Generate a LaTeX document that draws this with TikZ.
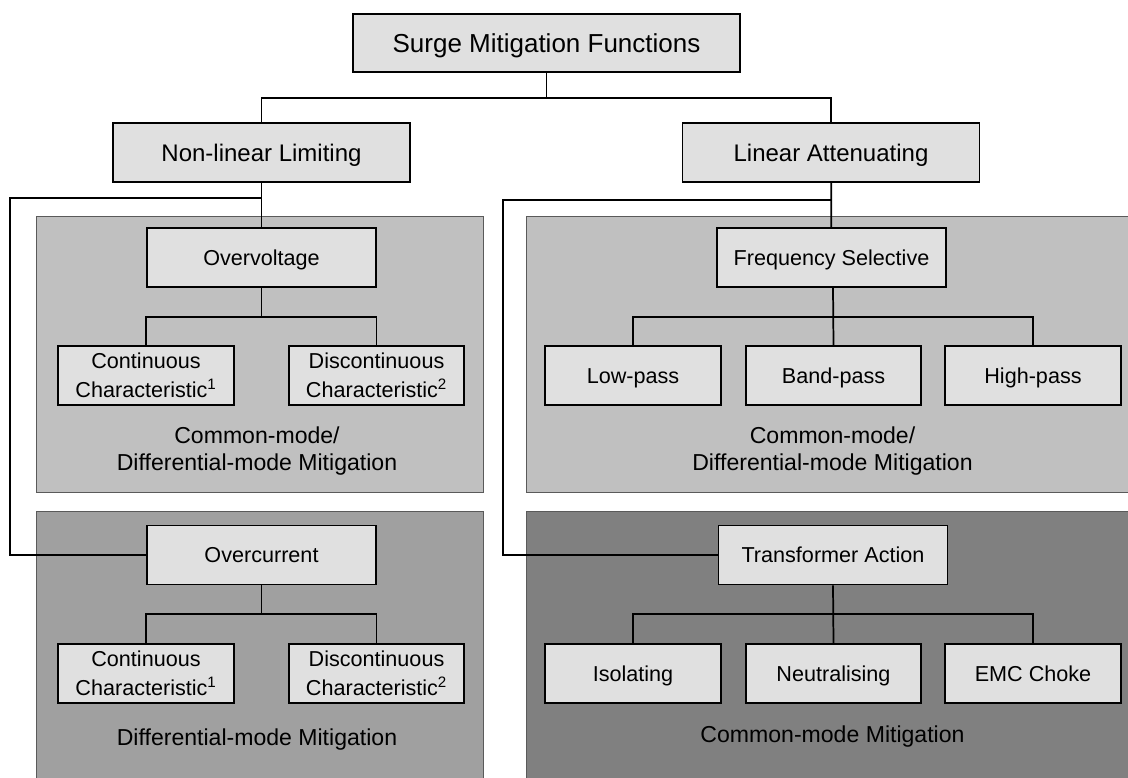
\documentclass[tikz,border=0pt]{standalone}
\usepackage{fontspec}
\setmainfont{Liberation Sans}
\usepackage{xcolor}
\usepackage{tikz}

\definecolor{boxgray}{HTML}{E0E0E0}
\definecolor{panelA}{HTML}{C0C0C0}
\definecolor{panelB}{HTML}{A0A0A0}
\definecolor{panelC}{HTML}{808080}
\definecolor{panelline}{HTML}{5A5A5A}

\begin{document}
\begin{tikzpicture}[x=0.75pt, y=-0.75pt]
\useasboundingbox (0,0) rectangle (1128,778);

% Defined styles
\tikzstyle{panel} = [draw=panelline, line width=0.7pt]
\tikzstyle{mainbox} = [rectangle, draw=black, line width=1.3pt, fill=boxgray, inner sep=0pt, text centered, minimum height=44.25pt]
\tikzstyle{rootbox} = [mainbox, text height=14pt, text depth=0pt, minimum width=290.25pt, minimum height=43.5pt, font=\fontsize{19.5}{23}\selectfont]
\tikzstyle{classbox} = [mainbox, text height=12.9pt, text depth=0pt, minimum width=222.75pt, font=\fontsize{18}{22}\selectfont]
\tikzstyle{groupbox} = [mainbox, text height=11.6pt, text depth=0pt, minimum width=171.75pt, font=\fontsize{16.2}{22}\selectfont]
\tikzstyle{leafbox} = [mainbox, minimum width=131.6pt, align=center, font=\fontsize{16.2}{22}\selectfont]
\tikzstyle{filterbox} = [mainbox, text height=11.6pt, text depth=0pt, minimum width=131.6pt, font=\fontsize{16.2}{22}\selectfont]
\tikzstyle{panellabel} = [align=center, inner sep=0pt, font=\fontsize{17.3}{20.8}\selectfont]
\tikzstyle{line} = [line width=1.3pt]

% --- Background panels ---
\fill[panelA] (36,216) rectangle (483,492);
\draw[panel] (36,216) rectangle (483,492);
\fill[panelA] (526,216) rectangle (1128,492);
\draw[panel] (1128,216) -- (526,216) -- (526,492) -- (1128,492);
\fill[panelB] (36,511) rectangle (483,778);
\draw[panel] (36,778) -- (36,511) -- (483,511) -- (483,778);
\fill[panelC] (526,511) rectangle (1128,778);
\draw[panel] (526,778) -- (526,511) -- (1128,511);

% --- Top levels ---
\node (root) [rootbox] at (546.5,43) {Surge Mitigation Functions};
\node (nll) [classbox] at (261.5,152.5) {Non-linear Limiting};
\node (la) [classbox] at (831,152.5) {Linear Attenuating};

% --- Non-linear side ---
\node (ov) [groupbox] at (261.5,257.5) {Overvoltage};
\node (cc1) [leafbox] at (146,375.5) {Continuous\\Characteristic\textsuperscript{1}};
\node (dc1) [leafbox] at (376.5,375.5) {Discontinuous\\Characteristic\textsuperscript{2}};
\node (oc) [groupbox] at (261.5,555) {Overcurrent};
\node (cc2) [leafbox] at (146,673.5) {Continuous\\Characteristic\textsuperscript{1}};
\node (dc2) [leafbox] at (376.5,673.5) {Discontinuous\\Characteristic\textsuperscript{2}};

% --- Linear side ---
\node (fs) [groupbox] at (831.5,257.5) {Frequency Selective};
\node (lp) [filterbox] at (633,375.5) {Low-pass};
\node (bp) [filterbox] at (833.5,375.5) {Band-pass};
\node (hp) [filterbox] at (1033,375.5) {High-pass};
\node (ta) [groupbox] at (833,555) {Transformer Action};
\node (iso) [filterbox] at (633,673.5) {Isolating};
\node (neu) [filterbox] at (833.5,673.5) {Neutralising};
\node (emc) [filterbox] at (1033,673.5) {EMC Choke};

% --- Panel labels ---
\node (lblA) [panellabel] at (257,451) {Common-mode/\\Differential-mode Mitigation};
\node (lblB) [panellabel] at (832.5,451) {Common-mode/\\Differential-mode Mitigation};
\node (lblC) [panellabel] at (257,740) {Differential-mode Mitigation};
\node (lblD) [panellabel] at (832.5,737) {Common-mode Mitigation};

% --- Junctions ---
\coordinate (rootj) at (546.5,98);
\coordinate (lfar) at (10,198);
\coordinate (rfar) at (503,200);
\coordinate (ovj) at (261.5,317);
\coordinate (ocj) at (261.5,614);
\coordinate (fsj) at (833,317);
\coordinate (taj) at (833,614);

% --- Connectors ---
\draw [line] (root) -- (rootj);
\draw [line] (nll.north) |- (rootj) -| (la.north);
\draw [line] (nll) -- (ov);
\draw [line] (lfar -| nll.south) -- (lfar) |- (oc.west);
\draw [line] (la) -- (fs);
\draw [line] (rfar -| la.south) -- (rfar) |- (ta.west);

\draw [line] (ov) -- (ovj);
\draw [line] (cc1.north) |- (ovj) -| (dc1.north);
\draw [line] (oc) -- (ocj);
\draw [line] (cc2.north) |- (ocj) -| (dc2.north);

\draw [line] (fs.south -| fsj) -- (bp.north);
\draw [line] (lp.north) |- (fsj) -| (hp.north);
\draw [line] (ta.south -| taj) -- (neu.north);
\draw [line] (iso.north) |- (taj) -| (emc.north);

\end{tikzpicture}
\end{document}
